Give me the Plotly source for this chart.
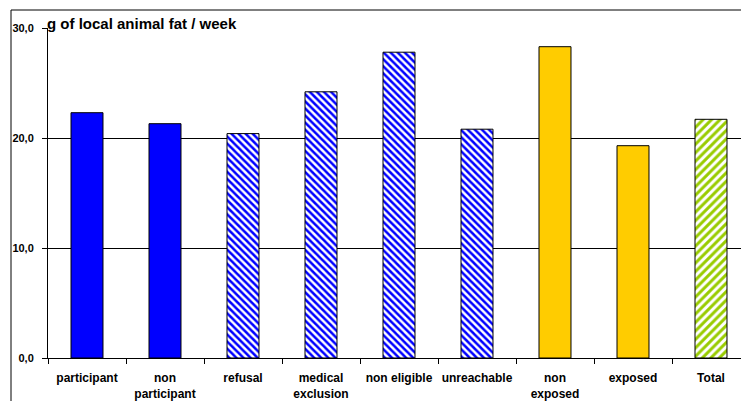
import plotly.graph_objects as go

# Weekly intake of local animal fat by study group
categories = ["participant", "non<br>participant", "refusal", "medical<br>exclusion",
              "non eligible", "unreachable", "non<br>exposed", "exposed", "Total"]
values = [22.3, 21.3, 20.4, 24.2, 27.8, 20.8, 28.3, 19.3, 21.7]
# Fill style of each bar (key into styles below)
bar_style = ["solid_blue", "solid_blue", "hatch_blue", "hatch_blue", "hatch_blue",
             "hatch_blue", "solid_yellow", "solid_yellow", "hatch_green"]

styles = {
    "solid_blue": dict(color="#0000FF", shape="", fg="#0000FF", size=5),
    "hatch_blue": dict(color="#FFFFFF", shape="\\", fg="#0000FF", size=5),
    "solid_yellow": dict(color="#FFCC00", shape="", fg="#FFCC00", size=5),
    "hatch_green": dict(color="#FFFFFF", shape="/", fg="#99CC00", size=6),
}

W, H = 741, 401
L, T, B = 48, 28, 43
cat_w = 78.0
x_right = (W - L) / cat_w - 0.5

fig = go.Figure()
for key, st in styles.items():
    idx = [i for i, s in enumerate(bar_style) if s == key]
    fig.add_trace(go.Bar(
        x=[categories[i] for i in idx],
        y=[values[i] for i in idx],
        width=0.41,
        marker=dict(
            color=st["color"],
            line=dict(color="#000000", width=1),
            pattern=dict(shape=st["shape"], fgcolor=st["fg"], fgopacity=1,
                         size=st["size"], solidity=0.5, fillmode="overlay"),
        ),
        hoverinfo="x+y",
    ))

tick_font = dict(family="Liberation Sans, Arial, sans-serif", size=11,
                 color="#000000", weight="bold")

fig.update_layout(
    width=W, height=H,
    margin=dict(l=L, r=0, t=T, b=B, pad=0, autoexpand=False),
    paper_bgcolor="#FFFFFF",
    plot_bgcolor="#FFFFFF",
    separators=",.",
    showlegend=False,
    barmode="overlay",
    font=dict(family="Liberation Sans, Arial, sans-serif", size=11, color="#000000"),
    xaxis=dict(
        type="category",
        categoryorder="array",
        categoryarray=categories,
        range=[-0.5, x_right],
        tickson="boundaries",
        ticks="outside",
        ticklen=5,
        tickcolor="#000000",
        tickangle=0,
        automargin=False,
        showline=True,
        linecolor="#000000",
        linewidth=1,
        showgrid=False,
        tickfont=dict(tick_font, size=12),
        ticklabelstandoff=9,
    ),
    yaxis=dict(
        range=[0, 30],
        tickvals=[0, 10, 20, 30],
        tickformat=".1f",
        ticks="outside",
        ticklen=5,
        tickcolor="#000000",
        automargin=False,
        showline=True,
        linecolor="#000000",
        linewidth=1,
        showgrid=True,
        gridcolor="#000000",
        gridwidth=1,
        zeroline=False,
        tickfont=tick_font,
        ticklabelstandoff=6,
    ),
    annotations=[dict(
        text="<b>g of local animal fat / week</b>",
        xref="paper", yref="paper",
        x=(239 - L) / (W - L), y=1.0, xanchor="right", yanchor="bottom",
        yshift=-6,
        showarrow=False,
        font=dict(family="Liberation Sans, Arial, sans-serif", size=15, color="#000000"),
    )],
    shapes=[dict(
        type="rect", xref="paper", yref="paper",
        x0=(11 - L) / (W - L), x1=1.2,
        y0=-0.3, y1=(H - B - 10) / (H - B - T),
        line=dict(color="#000000", width=1),
        fillcolor="rgba(0,0,0,0)",
        layer="below",
    )],
)

fig.write_html("out.html")
